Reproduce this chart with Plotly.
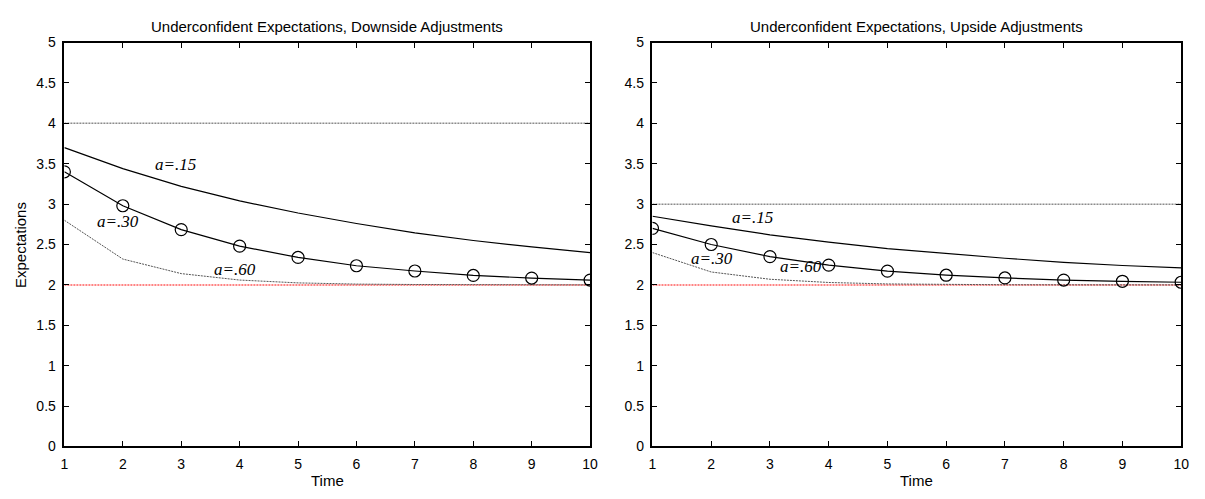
import plotly.graph_objects as go

# Time periods
time = [1, 2, 3, 4, 5, 6, 7, 8, 9, 10]

# Downside adjustments: expectations for three adjustment speeds
down_a15 = [3.70, 3.44, 3.22, 3.04, 2.89, 2.76, 2.645, 2.55, 2.47, 2.40]
down_a30 = [3.40, 2.98, 2.685, 2.48, 2.34, 2.237, 2.172, 2.117, 2.085, 2.06]
down_a60 = [2.80, 2.32, 2.14, 2.06, 2.025, 2.01, 2.005, 2.002, 2.001, 2.0]
down_start = 4.0
down_target = 2.0

# Upside adjustments
up_a15 = [2.85, 2.73, 2.62, 2.53, 2.45, 2.39, 2.33, 2.28, 2.24, 2.21]
up_a30 = [2.70, 2.50, 2.35, 2.245, 2.17, 2.12, 2.086, 2.06, 2.045, 2.033]
up_a60 = [2.40, 2.16, 2.07, 2.03, 2.012, 2.005, 2.002, 2.001, 2.0, 2.0]
up_start = 3.0
up_target = 2.0

# Curve labels: (text, x, y)
down_labels = [("a=.15", 2.9, 3.49), ("a=.30", 1.92, 2.79), ("a=.60", 3.92, 2.19)]
up_labels = [("a=.15", 2.71, 2.84), ("a=.30", 2.01, 2.33), ("a=.60", 3.53, 2.23)]

titles = ["Underconfident Expectations, Downside Adjustments",
          "Underconfident Expectations, Upside Adjustments"]
yticks = [0, 0.5, 1, 1.5, 2, 2.5, 3, 3.5, 4, 4.5, 5]
ytick_text = ["0", "0.5", "1", "1.5", "2", "2.5", "3", "3.5", "4", "4.5", "5"]

W, H = 1205, 499
SANS = "Liberation Sans, Arial, sans-serif"
SERIF = "Liberation Serif, Times New Roman, serif"

fig = go.Figure()

panels = [
    ("x", "y", down_a15, down_a30, down_a60, down_start, down_target, down_labels),
    ("x2", "y2", up_a15, up_a30, up_a60, up_start, up_target, up_labels),
]

for xa, ya, a15, a30, a60, start, target, labels in panels:
    # starting level (dotted gray) and long-run target (red)
    fig.add_trace(go.Scatter(x=[time[0], time[-1]], y=[start, start], mode="lines",
                             line=dict(color="#8c8c8c", width=1.5, dash="2px,1px"),
                             xaxis=xa, yaxis=ya, showlegend=False, hoverinfo="skip"))
    fig.add_trace(go.Scatter(x=[time[0], time[-1]], y=[target, target], mode="lines",
                             line=dict(color="#ff5c5c", width=1.5, dash="2px,1px"),
                             xaxis=xa, yaxis=ya, showlegend=False, hoverinfo="skip"))
    fig.add_trace(go.Scatter(x=time, y=a60, mode="lines",
                             line=dict(color="#555555", width=1, dash="2px,1px"),
                             xaxis=xa, yaxis=ya, showlegend=False))
    fig.add_trace(go.Scatter(x=time, y=a15, mode="lines",
                             line=dict(color="black", width=1.2),
                             xaxis=xa, yaxis=ya, showlegend=False))
    fig.add_trace(go.Scatter(x=time, y=a30, mode="lines+markers",
                             line=dict(color="black", width=1.2),
                             marker=dict(symbol="circle-open", size=12,
                                         color="black", line=dict(width=1.2)),
                             xaxis=xa, yaxis=ya, showlegend=False))
    for text, lx, ly in labels:
        fig.add_annotation(x=lx, y=ly, xref=xa, yref=ya, text=f"<i>{text}</i>",
                           showarrow=False, xanchor="center", yanchor="middle",
                           font=dict(family=SERIF, size=17, color="black"))

x_dom = [[61 / W, 592 / W], [655 / W, 1189 / W]]
y_dom = [(H - 453) / H, (H - 35.7) / H]

common_x = dict(range=[1, 10], tickvals=time, ticks="inside", ticklen=5,
                tickcolor="black", showline=True, linecolor="black", linewidth=2,
                mirror="ticks", showgrid=False, zeroline=False, ticklabelstandoff=4,
                tickfont=dict(family=SANS, size=14, color="black"))
common_y = dict(range=[0, 5], tickvals=yticks, ticktext=ytick_text, ticks="inside",
                ticklen=5, tickcolor="black", showline=True, linecolor="black",
                linewidth=1.5, mirror="ticks", showgrid=False, zeroline=False,
                ticklabelstandoff=4, tickfont=dict(family=SANS, size=14, color="black"))

fig.update_layout(
    width=W, height=H,
    margin=dict(l=0, r=0, t=0, b=0),
    paper_bgcolor="white", plot_bgcolor="white",
    xaxis=dict(domain=x_dom[0], anchor="y", **common_x),
    yaxis=dict(domain=y_dom, anchor="x", **common_y),
    xaxis2=dict(domain=x_dom[1], anchor="y2", **common_x),
    yaxis2=dict(domain=y_dom, anchor="x2", **common_y),
)

# panel titles and x-axis titles
for dom, title in zip(x_dom, titles):
    fig.add_annotation(x=(dom[0] + dom[1]) / 2, y=(H - 19) / H, xref="paper", yref="paper",
                       text=title, showarrow=False, xanchor="center", yanchor="middle",
                       font=dict(family=SANS, size=15, color="black"))
    fig.add_annotation(x=(dom[0] + dom[1]) / 2, y=(H - 488) / H, xref="paper", yref="paper",
                       text="Time", showarrow=False, xanchor="center", yanchor="middle",
                       font=dict(family=SANS, size=15, color="black"))

fig.add_annotation(x=16 / W, y=(H - 245) / H, xref="paper", yref="paper",
                   text="Expectations", textangle=-90, showarrow=False,
                   xanchor="center", yanchor="middle",
                   font=dict(family=SANS, size=15, color="black"))

fig.write_html("out.html")
